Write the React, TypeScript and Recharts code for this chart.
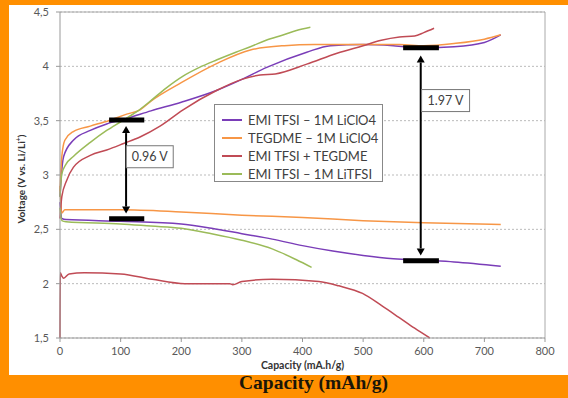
import React from 'react';
import {
  LineChart,
  Line,
  XAxis,
  YAxis,
  CartesianGrid,
  ReferenceLine,
  ReferenceDot
} from 'recharts';

const capacityTicks = [0, 100, 200, 300, 400, 500, 600, 700, 800];
const voltageTicks = [1.5, 2, 2.5, 3, 3.5, 4, 4.5];

const seriesNames = [
  'EMI TFSI – 1M LiClO4',
  'TEGDME – 1M LiClO4',
  'EMI TFSI + TEGDME',
  'EMI TFSI – 1M LiTFSI'
];
const seriesColors = ['#7A3DB8', '#F79646', '#C04B55', '#9BBB59'];

// [capacity mA.h/g, voltage V] pairs, charge and discharge
const emiLiclo4Charge = [
  [0, 2.8], [2, 2.98], [6, 3.17], [22, 3.32], [50, 3.41], [77, 3.47], [110, 3.52],
  [150, 3.59], [200, 3.67], [259, 3.78], [300, 3.88], [341, 3.99], [407, 4.13],
  [446, 4.19], [500, 4.2], [550, 4.19], [600, 4.17], [650, 4.18], [700, 4.22], [727, 4.29]
];
const emiLiclo4Discharge = [
  [0, 2.75], [3, 2.6], [10, 2.59], [100, 2.575], [200, 2.55], [250, 2.51], [300, 2.46],
  [350, 2.41], [400, 2.35], [450, 2.3], [500, 2.26], [550, 2.23], [600, 2.215],
  [650, 2.2], [727, 2.16]
];
const tegdmeCharge = [
  [0, 2.85], [3, 3.17], [8, 3.32], [22, 3.4], [50, 3.45], [80, 3.5], [110, 3.56],
  [132, 3.6], [150, 3.68], [200, 3.85], [260, 4.03], [314, 4.15], [370, 4.19],
  [420, 4.2], [500, 4.2], [560, 4.2], [600, 4.19], [650, 4.21], [700, 4.25], [727, 4.29]
];
const tegdmeDischarge = [
  [0, 2.9], [3, 2.65], [8, 2.68], [100, 2.68], [200, 2.66], [300, 2.63], [400, 2.61],
  [500, 2.58], [600, 2.56], [727, 2.545]
];
const mixCharge = [
  [0, 2.6], [3, 2.8], [11, 2.95], [22, 3.07], [50, 3.18], [77, 3.23], [105, 3.29],
  [132, 3.35], [165, 3.45], [203, 3.6], [259, 3.78], [300, 3.88], [330, 3.92],
  [355, 3.93], [407, 4.02], [457, 4.12], [500, 4.19], [530, 4.24], [560, 4.27],
  [585, 4.28], [600, 4.31], [617, 4.35]
];
const mixDischarge = [
  [0, 1.5], [0.4, 2.1], [3, 2.07], [6, 2.05], [15, 2.09], [40, 2.1], [100, 2.09],
  [152, 2.04], [206, 2.0], [280, 2.0], [285, 1.99], [300, 2.02], [350, 2.04],
  [427, 2.02], [460, 1.98], [499, 1.91], [530, 1.8], [559, 1.69], [585, 1.59], [610, 1.5]
];
const litfsiCharge = [
  [0, 2.8], [3, 3.01], [10, 3.1], [22, 3.17], [50, 3.3], [77, 3.41], [100, 3.49],
  [126, 3.58], [149, 3.68], [175, 3.8], [203, 3.91], [230, 3.99], [259, 4.06],
  [290, 4.13], [314, 4.18], [340, 4.24], [369, 4.29], [390, 4.33], [413, 4.36]
];
const litfsiDischarge = [
  [0, 2.7], [3, 2.58], [10, 2.57], [100, 2.55], [150, 2.53], [200, 2.51], [250, 2.46],
  [300, 2.4], [350, 2.32], [390, 2.22], [415, 2.15]
];

const toPoints = (arr: number[][]) => arr.map(([c, v]) => ({ c, v }));

const curves = [
  { data: emiLiclo4Charge, color: 0 },
  { data: emiLiclo4Discharge, color: 0 },
  { data: tegdmeCharge, color: 1 },
  { data: tegdmeDischarge, color: 1 },
  { data: mixCharge, color: 2 },
  { data: mixDischarge, color: 2 },
  { data: litfsiCharge, color: 3 },
  { data: litfsiDischarge, color: 3 }
];

// black markers: [from capacity, to capacity, voltage]
const markers = [
  [81, 139, 3.507],
  [81, 139, 2.598],
  [566, 625, 4.171],
  [566, 625, 2.21]
];

const FONT = 'Lato, "Open Sans", sans-serif';

const DoubleArrow = (p: any) => {
  const { x1, y1, x2, y2 } = p;
  const h = 7;
  const w = 4;
  return (
    <g>
      <line x1={x1} y1={y1 + h} x2={x2} y2={y2 - h} stroke="#000" strokeWidth={2} />
      <polygon points={`${x1},${y1} ${x1 - w},${y1 + h} ${x1 + w},${y1 + h}`} fill="#000" />
      <polygon points={`${x2},${y2} ${x2 - w},${y2 - h} ${x2 + w},${y2 - h}`} fill="#000" />
    </g>
  );
};

const Bar = (p: any) => (
  <line x1={p.x1} y1={p.y1} x2={p.x2} y2={p.y2} stroke="#000" strokeWidth={5} />
);

const valueBox = (text: string, w: number) => (p: any) => (
  <g>
    <rect x={p.cx - w / 2} y={p.cy - 11} width={w} height={22} fill="#fff" stroke="#777" strokeWidth={1} />
    <text x={p.cx} y={p.cy + 4.5} textAnchor="middle" fontSize={12.5} fill="#404040" fontFamily={FONT}>
      {text}
    </text>
  </g>
);

export default function App() {
  return (
    <div style={{ position: 'absolute', left: 0, top: 0, width: 568, height: 398, background: '#FF8F00', overflow: 'hidden' }}>
      <div
        style={{
          position: 'absolute',
          left: 239,
          top: 373,
          fontFamily: '"Liberation Serif", serif',
          fontWeight: 'bold',
          fontSize: 19.5,
          lineHeight: 1,
          color: '#1a1608',
          whiteSpace: 'nowrap'
        }}
      >
        Capacity (mAh/g)
      </div>
      <div style={{ position: 'absolute', left: 9, top: 5, width: 559, height: 370, background: '#fff' }}>
        <LineChart width={559} height={370} margin={{ top: 7, right: 23, bottom: 0, left: 0 }}>
          <CartesianGrid horizontal vertical={false} stroke="#bbb" strokeDasharray="2 2" />
          <XAxis
            type="number"
            dataKey="c"
            domain={[0, 800]}
            ticks={capacityTicks}
            interval={0}
            height={37}
            tickSize={4}
            tickMargin={5}
            stroke="#999"
            tick={{ fontSize: 11, fill: '#595959', fontFamily: FONT }}
            label={{
              value: 'Capacity (mA.h/g)',
              position: 'insideBottom',
              offset: 6,
              style: { fontSize: 10.5, fontWeight: 'bold', fill: '#333', fontFamily: FONT }
            }}
          />
          <YAxis
            type="number"
            dataKey="v"
            domain={[1.5, 4.5]}
            ticks={voltageTicks}
            interval={0}
            width={51}
            tickSize={4}
            tickMargin={7}
            stroke="#999"
            tickFormatter={(v: number) => String(v).replace('.', ',')}
            tick={{ fontSize: 11, fill: '#595959', fontFamily: FONT }}
          />
          <ReferenceLine y={4.5} stroke="#aaa" />
          <ReferenceLine x={800} stroke="#aaa" />
          {curves.map((s, i) => (
            <Line
              key={i}
              data={toPoints(s.data)}
              dataKey="v"
              type="monotone"
              stroke={seriesColors[s.color]}
              strokeWidth={1.5}
              dot={false}
              activeDot={false}
              isAnimationActive={false}
            />
          ))}
          {markers.map(([a, b, v], i) => (
            <ReferenceLine
              key={`m${i}`}
              segment={[{ x: a, y: v }, { x: b, y: v }]}
              shape={Bar}
              ifOverflow="visible"
              zIndex={1000}
            />
          ))}
          <ReferenceLine segment={[{ x: 109, y: 3.45 }, { x: 109, y: 2.645 }]} shape={DoubleArrow} ifOverflow="visible" zIndex={1000} />
          <ReferenceLine segment={[{ x: 595, y: 4.1 }, { x: 595, y: 2.26 }]} shape={DoubleArrow} ifOverflow="visible" zIndex={1000} />
          <ReferenceDot x={148} y={3.168} shape={valueBox('0.96 V', 47)} ifOverflow="visible" zIndex={1000} />
          <ReferenceDot x={636} y={3.685} shape={valueBox('1.97 V', 48)} ifOverflow="visible" zIndex={1000} />
        </LineChart>
      </div>
      <div
        style={{
          position: 'absolute',
          left: -42,
          top: 172,
          width: 120,
          height: 14,
          lineHeight: '14px',
          textAlign: 'center',
          transform: 'rotate(-90deg)',
          fontFamily: FONT,
          fontWeight: 'bold',
          fontSize: 10,
          color: '#333',
          whiteSpace: 'nowrap'
        }}
      >
        Voltage (V vs. Li/Li<sup style={{ fontSize: 7 }}>+</sup>)
      </div>
      <div
        style={{
          position: 'absolute',
          left: 214,
          top: 104,
          width: 169,
          height: 78,
          border: '1px solid #888',
          background: '#fff',
          paddingTop: 6,
          boxSizing: 'border-box',
          fontFamily: FONT,
          fontSize: 13,
          color: '#404040'
        }}
      >
        {seriesNames.map((n, i) => (
          <div key={n} style={{ height: 18, display: 'flex', alignItems: 'center', whiteSpace: 'nowrap' }}>
            <span style={{ display: 'inline-block', width: 20, height: 2, background: seriesColors[i], marginLeft: 7, marginRight: 6 }} />
            {n}
          </div>
        ))}
      </div>
    </div>
  );
}
